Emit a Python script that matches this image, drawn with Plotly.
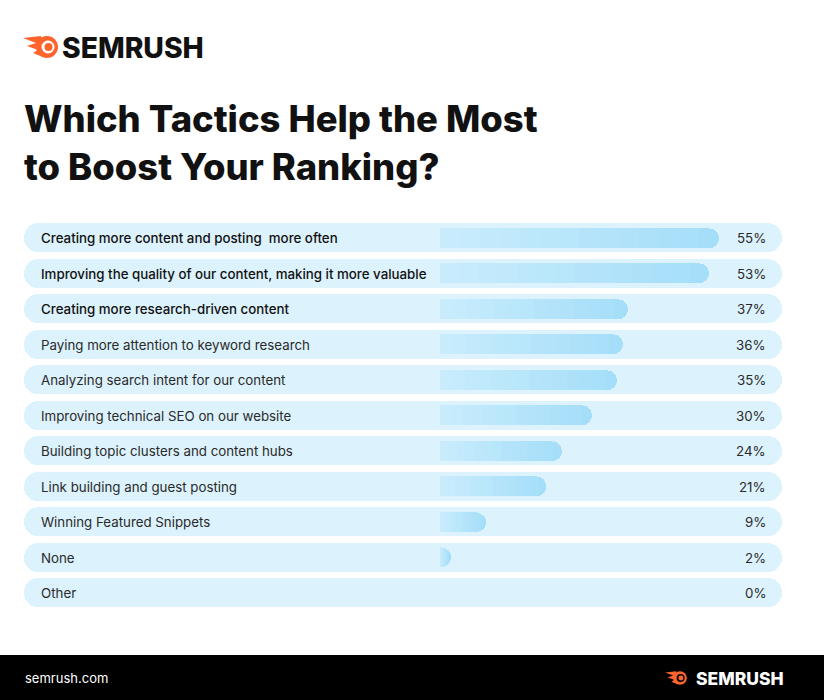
import plotly.graph_objects as go

# ---------------- data ----------------
categories = [
    "Creating more content and posting  more often",
    "Improving the quality of our content, making it more valuable",
    "Creating more research-driven content",
    "Paying more attention to keyword research",
    "Analyzing search intent for our content",
    "Improving technical SEO on our website",
    "Building topic clusters and content hubs",
    "Link building and guest posting",
    "Winning Featured Snippets",
    "None",
    "Other",
]
values = [55, 53, 37, 36, 35, 30, 24, 21, 9, 2, 0]
value_labels = [f"{v}%" for v in values]
title_lines = ["Which Tactics Help the Most", "to Boost Your Ranking?"]

# ---------------- layout constants ----------------
W, H = 824, 700
ORIGIN_PX = 440.0          # pixel where 0% sits
PX_PER_UNIT = 5.07         # pixels per percentage point
ROW_LEFT_PX, ROW_RIGHT_PX = 24.0, 782.0
LABEL_PX, PCT_PX = 38.5, 767.5
ROW_PITCH = 35.5
FIRST_ROW_CY = 238.0
ROW_H, BAR_H = 29.0, 20.0
N_GRAD = 14
GRAD_FROM = (200, 236, 252)
GRAD_TO = (165, 222, 249)

def px2x(px):
    return (px - ORIGIN_PX) / PX_PER_UNIT

def px_to_paper(px, py):
    return px / W, 1 - py / H

n = len(categories)
ypos = list(range(n))
top_px = FIRST_ROW_CY - ROW_PITCH / 2
bot_px = top_px + ROW_PITCH * n

ROW_BG = "#dcf2fd"
ORANGE = "#ff642d"
FONT = "Inter"

fig = go.Figure()

# row backgrounds (primary axes)
bg_base = px2x(ROW_LEFT_PX)
bg_len = (ROW_RIGHT_PX - ROW_LEFT_PX) / PX_PER_UNIT
fig.add_trace(go.Bar(
    y=ypos, x=[bg_len] * n, base=[bg_base] * n, orientation="h",
    width=ROW_H / ROW_PITCH,
    marker=dict(color=ROW_BG, cornerradius=ROW_H / 2, line=dict(width=0)),
    hoverinfo="skip", showlegend=False, xaxis="x", yaxis="y",
))

# value bars: stacked gradient segments (overlaying axes so they draw on top)
for k in range(N_GRAD):
    t = k / (N_GRAD - 1)
    col = "rgb({},{},{})".format(*[round(a + (b - a) * t) for a, b in zip(GRAD_FROM, GRAD_TO)])
    fig.add_trace(go.Bar(
        y=ypos, x=[v / N_GRAD for v in values], orientation="h",
        width=BAR_H / ROW_PITCH,
        marker=dict(color=col, line=dict(width=0),
                    cornerradius=BAR_H / 2 if k == 0 else None),
        customdata=values, hovertemplate="%{customdata}%<extra></extra>",
        showlegend=False, xaxis="x", yaxis="y2",
    ))

annotations = []
for i, (c, lab) in enumerate(zip(categories, value_labels)):
    annotations.append(dict(
        x=px2x(LABEL_PX), y=i, xref="x", yref="y", text=c, showarrow=False,
        xanchor="left", yanchor="middle",
        font=dict(family=FONT, size=13.3, color="#111111" if i < 3 else "#2a2a2a",
                  weight=500 if i < 3 else 400),
    ))
    annotations.append(dict(
        x=px2x(PCT_PX), y=i, xref="x", yref="y", text=lab, showarrow=False,
        xanchor="right", yanchor="middle",
        font=dict(family=FONT, size=13.3, color="#2a2a2a"),
    ))

# title
for j, line in enumerate(title_lines):
    x0, y0 = px_to_paper(22, 119 + 48 * j)
    annotations.append(dict(
        x=x0, y=y0, xref="paper", yref="paper", text=line, showarrow=False,
        xanchor="left", yanchor="middle",
        font=dict(family=FONT, size=36.4, color="#111111", weight=800),
    ))

# top logo text
x0, y0 = px_to_paper(60, 48)
annotations.append(dict(x=x0, y=y0, xref="paper", yref="paper", text="SEMRUSH",
                        showarrow=False, xanchor="left", yanchor="middle",
                        font=dict(family=FONT, size=28.3, color="#111111", weight=800)))
# footer texts
x0, y0 = px_to_paper(23, 678)
annotations.append(dict(x=x0, y=y0, xref="paper", yref="paper", text="semrush.com",
                        showarrow=False, xanchor="left", yanchor="middle",
                        font=dict(family=FONT, size=13, color="#ffffff")))
x0, y0 = px_to_paper(694, 678)
annotations.append(dict(x=x0, y=y0, xref="paper", yref="paper", text="SEMRUSH",
                        showarrow=False, xanchor="left", yanchor="middle",
                        font=dict(family=FONT, size=17.5, color="#ffffff", weight=800)))

shapes = []
# footer band
fx0, fy0 = px_to_paper(0, 655)
fx1, fy1 = px_to_paper(W, H)
shapes.append(dict(type="rect", xref="paper", yref="paper", x0=fx0, x1=fx1, y0=fy1, y1=fy0,
                   fillcolor="#000000", line=dict(width=0), layer="below"))

def logo_icon(cx, cy, s, ring_color):
    out = []
    pts = [(-24, -9), (-6, -11), (-4, 10), (-14, 6), (-9, 3), (-20, -1), (-11, -4)]
    path = "M " + " L ".join(
        "{:.5f} {:.5f}".format(*px_to_paper(cx + px * s, cy + py * s)) for px, py in pts) + " Z"
    out.append(dict(type="path", xref="paper", yref="paper", path=path,
                    fillcolor=ORANGE, line=dict(width=0)))
    for r, col, dx in [(11, ORANGE, 0), (6.5, ring_color, 1), (4, ORANGE, 1.5)]:
        a0, b0 = px_to_paper(cx + (dx - r) * s, cy - r * s)
        a1, b1 = px_to_paper(cx + (dx + r) * s, cy + r * s)
        out.append(dict(type="circle", xref="paper", yref="paper", x0=a0, x1=a1, y0=b1, y1=b0,
                        fillcolor=col, line=dict(width=0)))
    return out

shapes += logo_icon(47, 47, 1.0, "#ffffff")
shapes += logo_icon(680, 678, 0.62, "#000000")

ydom = [1 - bot_px / H, 1 - top_px / H]
fig.update_layout(
    width=W, height=H, margin=dict(l=0, r=0, t=0, b=0),
    paper_bgcolor="#ffffff", plot_bgcolor="rgba(0,0,0,0)",
    barmode="stack", bargap=0,
    xaxis=dict(range=[px2x(0), px2x(W)], domain=[0, 1], visible=False, fixedrange=True),
    yaxis=dict(range=[n - 0.5, -0.5], domain=ydom, visible=False, fixedrange=True),
    yaxis2=dict(range=[n - 0.5, -0.5], domain=ydom, visible=False, fixedrange=True,
                overlaying="y", anchor="x"),
    annotations=annotations, shapes=shapes, showlegend=False,
)

fig.write_html("out.html", config={"displayModeBar": False},
               post_script="document.body.style.margin='0';")
